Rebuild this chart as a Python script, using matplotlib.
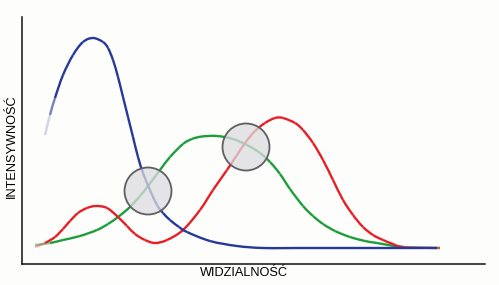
import numpy as np
import matplotlib.pyplot as plt
from matplotlib.colors import to_rgba
from matplotlib.path import Path
from matplotlib.patches import Circle, PathPatch

# osie w jednostkach ~pikseli: x = widzialnosc, y = intensywnosc
niebieski_x = [23, 28, 33, 41, 51, 61, 71, 81, 86, 91, 96, 101, 106, 111, 116, 121, 128,
               135, 141, 148, 157, 165, 188, 215, 241, 278, 415]
niebieski_y = [129, 149, 166, 189, 209, 222, 226, 222, 216, 204, 187, 167, 147, 127, 107, 91, 74,
               59, 51, 44, 37, 32, 23, 18, 16, 16, 16]

czerwony_x = [13, 23, 33, 41, 48, 56, 65, 74, 85, 96, 105, 113, 123, 133, 145, 161, 178,
              191, 205, 215, 223, 233, 243, 253, 261, 273, 281, 291, 301, 311, 321, 331,
              341, 351, 361, 371, 381, 418]
czerwony_y = [17, 21, 27, 35, 43, 51, 56, 58, 56, 47, 38, 30, 24, 21, 24, 34, 54,
              74, 94, 109, 121, 133, 141, 146, 146, 141, 134, 121, 104, 84, 64, 49,
              37, 29, 24, 20, 17, 16]

zielony_x = [13, 28, 41, 58, 75, 86, 96, 108, 118, 126, 138, 148, 161, 170, 180, 195, 211, 225,
             238, 248, 258, 268, 281, 291, 301, 313, 328, 343, 355, 381, 418]
zielony_y = [19, 21, 24, 28, 34, 40, 47, 57, 68, 78, 94, 107, 120, 125, 127.5, 128, 125, 119,
             111, 102, 90, 75, 58, 48, 40, 33, 27, 23, 21, 17, 16]

# obszary przeciecia (srodek x, srodek y)
kolka_x = [126, 224]
kolka_y = [73, 117]

kolory = {'niebieski': '#26399a', 'czerwony': '#e61f26', 'zielony': '#1d9e3c'}


def rysuj_krzywa(ax, x, y, kolor, zanik_lewy, zanik_prawy):
    # gladka krzywa Beziera przez odczytane punkty, zanikajace konce
    p = np.column_stack([x, y]).astype(float)
    n = len(p)
    for i in range(n - 1):
        p0 = p[max(i - 1, 0)]
        p1, p2 = p[i], p[i + 1]
        p3 = p[min(i + 2, n - 1)]
        c1 = p1 + (p2 - p0) / 6
        c2 = p2 - (p3 - p1) / 6
        sx = (p1[0] + p2[0]) / 2
        a = min(1.0, max(0.15, (sx - p[0, 0]) / zanik_lewy),
                max(0.0, (p[-1, 0] - sx) / zanik_prawy))
        sciezka = Path([p1, c1, c2, p2], [Path.MOVETO, Path.CURVE4, Path.CURVE4, Path.CURVE4])
        ax.add_patch(PathPatch(sciezka, facecolor='none', edgecolor=to_rgba(kolor, a),
                               linewidth=1.7, capstyle='butt'))


fig = plt.figure(figsize=(4.99, 2.85), dpi=100, facecolor='#fdfdfb')
ax = fig.add_axes([22 / 499, 21 / 285, 463 / 499, 247 / 285])
ax.set_facecolor('#fdfdfb')
ax.set_xlim(0, 463)
ax.set_ylim(0, 247)

rysuj_krzywa(ax, zielony_x, zielony_y, kolory['zielony'], 15, 30)
rysuj_krzywa(ax, czerwony_x, czerwony_y, kolory['czerwony'], 15, 30)
rysuj_krzywa(ax, niebieski_x, niebieski_y, kolory['niebieski'], 12, 30)

for cx, cy in zip(kolka_x, kolka_y):
    ax.add_patch(Circle((cx, cy), 23.5, facecolor='#dcdce0', alpha=0.75,
                        edgecolor='none', zorder=3))
    ax.add_patch(Circle((cx, cy), 23.5, facecolor='none', edgecolor='#5f5f63',
                        linewidth=1.3, zorder=4))

for s in ['top', 'right']:
    ax.spines[s].set_visible(False)
for s in ['left', 'bottom']:
    ax.spines[s].set_linewidth(1.1)
    ax.spines[s].set_color('#111111')
ax.set_xticks([])
ax.set_yticks([])

fig.text(244 / 499, 1 - 273 / 285, 'WIDZIALNOŚĆ', ha='center', va='center',
         fontsize=9.2, family='Liberation Sans', color='#000000')
fig.text(12 / 499, 1 - 146 / 285, 'INTENSYWNOŚĆ', ha='center', va='center',
         rotation=90, fontsize=9.2, family='Liberation Sans', color='#000000')

fig.savefig('out.png', dpi=100, facecolor=fig.get_facecolor())
